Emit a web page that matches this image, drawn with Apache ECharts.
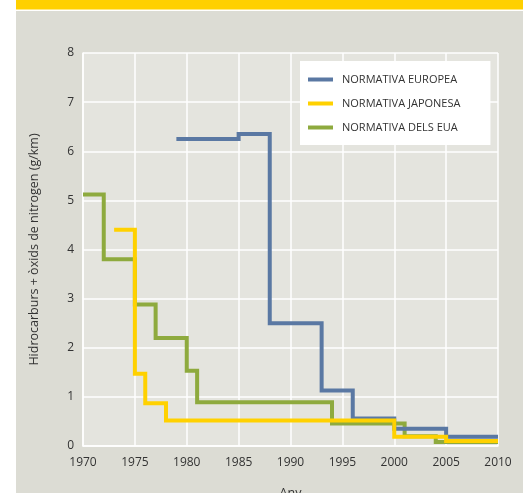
<!DOCTYPE html>
<html>
<head>
<meta charset="utf-8">
<script src="https://cdn.jsdelivr.net/npm/echarts@6/dist/echarts.min.js"></script>
<style>
  html, body { margin: 0; padding: 0; background: #fff; }
  #chart { width: 526px; height: 493px; }
</style>
</head>
<body>
<div id="chart"></div>
<script>
// step breakpoints: value holds from year i until year i+1 (last value repeated at end year)
const euYears = [1979, 1985, 1988, 1993, 1996, 2000, 2005, 2010]
const euValues = [6.25, 6.35, 2.5, 1.13, 0.56, 0.35, 0.19, 0.19]

const jpYears = [1973, 1975, 1976, 1978, 2000, 2005, 2010]
const jpValues = [4.4, 1.47, 0.87, 0.52, 0.19, 0.1, 0.1]

const usYears = [1970, 1972, 1975, 1977, 1980, 1981, 1994, 2001, 2004, 2010]
const usValues = [5.12, 3.8, 2.88, 2.2, 1.53, 0.89, 0.46, 0.2, 0.08, 0.08]

const seriesNames = ['NORMATIVA EUROPEA', 'NORMATIVA JAPONESA', 'NORMATIVA DELS EUA']
const seriesColors = ['#5a78a3', '#ffd100', '#8eaa3e']

const pairs = (xs, ys) => xs.map((x, i) => [x, ys[i]])

const font = '"Open Sans", "Noto Sans", sans-serif'
const textColor = '#333'

const chart = echarts.init(document.getElementById('chart'), null, { renderer: 'canvas' })

const makeSeries = (i, data, z) => ({
  name: seriesNames[i],
  type: 'line',
  step: 'end',
  data: data,
  color: seriesColors[i],
  showSymbol: false,
  symbol: 'none',
  z: z,
  lineStyle: { width: 4, color: seriesColors[i], cap: 'butt', join: 'miter' }
})

chart.setOption({
  animation: false,
  backgroundColor: '#fff',
  graphic: [
    { type: 'rect', shape: { x: 16, y: 0, width: 507, height: 9.5 }, style: { fill: '#ffd000' }, z: -10 },
    { type: 'rect', shape: { x: 16, y: 11, width: 507, height: 482 }, style: { fill: '#dcdcd4' }, z: -10 }
  ],
  grid: {
    left: 83,
    right: 28,
    top: 53,
    bottom: 47,
    outerBoundsMode: 'none',
    show: true,
    backgroundColor: '#e4e4de',
    borderWidth: 0
  },
  legend: {
    orient: 'vertical',
    left: 300,
    top: 61,
    padding: [12, 30, 11, 8],
    itemGap: 11,
    itemWidth: 25,
    itemHeight: 4,
    icon: 'rect',
    backgroundColor: '#fff',
    data: seriesNames,
    textStyle: { fontFamily: font, fontSize: 11, color: textColor, lineHeight: 13, padding: [0, 0, 0, 4] }
  },
  xAxis: {
    type: 'value',
    min: 1970,
    max: 2010,
    interval: 5,
    name: 'Any',
    nameLocation: 'middle',
    nameGap: 41,
    nameTextStyle: { fontFamily: font, fontSize: 12.5, color: textColor },
    axisLine: { show: true, lineStyle: { color: '#fff', width: 1.5 } },
    axisTick: { show: false },
    axisLabel: { fontFamily: font, fontSize: 12, color: textColor, margin: 11, formatter: v => String(v) },
    splitLine: { show: true, lineStyle: { color: '#fff', width: 1.5 } }
  },
  yAxis: {
    type: 'value',
    min: 0,
    max: 8,
    interval: 1,
    name: 'Hidrocarburs + òxids de nitrogen (g/km)',
    nameLocation: 'middle',
    nameGap: 42,
    nameRotate: 90,
    nameTextStyle: { fontFamily: font, fontSize: 12.5, color: textColor },
    axisLine: { show: true, lineStyle: { color: '#fff', width: 1.5 } },
    axisTick: { show: false },
    axisLabel: { fontFamily: font, fontSize: 12, color: textColor, margin: 9 },
    splitLine: { show: true, lineStyle: { color: '#fff', width: 1.5 } }
  },
  series: [
    makeSeries(0, pairs(euYears, euValues), 3),
    makeSeries(1, pairs(jpYears, jpValues), 4),
    makeSeries(2, pairs(usYears, usValues), 2)
  ]
})
</script>
</body>
</html>
